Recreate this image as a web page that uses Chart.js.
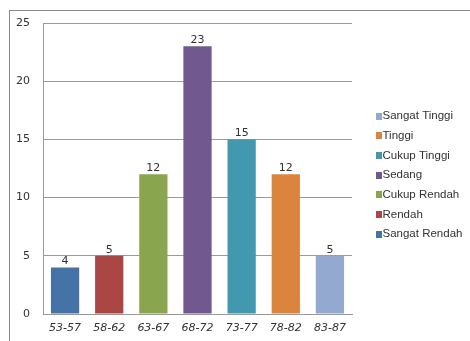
<!DOCTYPE html>
<html>
<head>
<meta charset="utf-8">
<script src="https://cdn.jsdelivr.net/npm/chart.js@4/dist/chart.umd.min.js"></script>
<style>
  html, body { margin: 0; padding: 0; background: #ffffff; }
  #wrap { width: 470px; height: 341px; position: relative; }
</style>
</head>
<body>
<div id="wrap"><canvas id="chart" width="470" height="341"></canvas></div>
<script>
// Score intervals and how many students fall in each
const categories = ['53-57', '58-62', '63-67', '68-72', '73-77', '78-82', '83-87'];
const counts = [4, 5, 12, 23, 15, 12, 5];
// Class names for each interval (same order as categories)
const classNames = ['Sangat Rendah', 'Rendah', 'Cukup Rendah', 'Sedang', 'Cukup Tinggi', 'Tinggi', 'Sangat Tinggi'];
const barColors = ['#4572A7', '#AA4643', '#89A54E', '#71588F', '#4198AF', '#DB843D', '#93A9CF'];
const yTicks = [0, 5, 10, 15, 20, 25];

// Outer frame of the chart
const framePlugin = {
  id: 'frame',
  beforeDraw(chart) {
    const ctx = chart.ctx;
    ctx.save();
    ctx.strokeStyle = '#8a8a8a';
    ctx.lineWidth = 1;
    ctx.strokeRect(9.5, 10.5, 480, 400);
    ctx.restore();
  }
};

// Value above each bar
const valueLabels = {
  id: 'valueLabels',
  afterDatasetsDraw(chart) {
    const ctx = chart.ctx;
    const meta = chart.getDatasetMeta(0);
    ctx.save();
    ctx.font = '11px "DejaVu Sans"';
    ctx.fillStyle = '#333333';
    ctx.textAlign = 'center';
    ctx.textBaseline = 'alphabetic';
    meta.data.forEach((bar, i) => {
      ctx.fillText(String(chart.data.datasets[0].data[i]), bar.x, bar.y - 3);
    });
    ctx.restore();
  }
};

// Legend listing the classes, highest class first
const sideLegend = {
  id: 'sideLegend',
  afterDraw(chart) {
    const ctx = chart.ctx;
    const x0 = 376, y0 = 116, step = 19.7;
    ctx.save();
    ctx.font = '11.5px "Liberation Sans"';
    ctx.textBaseline = 'middle';
    ctx.textAlign = 'left';
    const order = classNames.map((n, i) => i).reverse();
    order.forEach((idx, row) => {
      const y = y0 + row * step;
      ctx.fillStyle = barColors[idx];
      ctx.fillRect(x0, Math.round(y - 3.5), 6, 7);
      ctx.fillStyle = '#333333';
      ctx.fillText(classNames[idx], x0 + 6.5, y);
    });
    ctx.restore();
  }
};

new Chart(document.getElementById('chart'), {
  type: 'bar',
  data: {
    labels: categories,
    datasets: [{
      label: 'Jumlah',
      data: counts,
      backgroundColor: barColors,
      borderWidth: 0,
      categoryPercentage: 1.0,
      barPercentage: 0.64
    }]
  },
  options: {
    responsive: false,
    animation: false,
    layout: { padding: { left: 0, top: 23, right: 118, bottom: 0 } },
    plugins: {
      legend: { display: false },
      tooltip: { enabled: false }
    },
    scales: {
      x: {
        grid: { display: false, drawTicks: false },
        border: { display: true, color: '#9a9a9a', width: 1 },
        ticks: {
          font: { family: '"DejaVu Sans"', size: 11, style: 'italic' },
          color: '#333333',
          padding: 8,
          maxRotation: 0
        },
        afterFit(scale) { scale.height = 27; }
      },
      y: {
        min: 0,
        max: 25,
        afterBuildTicks(scale) { scale.ticks = yTicks.map(v => ({ value: v })); },
        grid: { color: '#9a9a9a', lineWidth: 1, drawTicks: false },
        border: { display: true, color: '#9a9a9a', width: 1 },
        ticks: {
          font: { family: '"DejaVu Sans"', size: 11 },
          color: '#333333',
          padding: 13
        },
        afterFit(scale) { scale.width = 43; }
      }
    }
  },
  plugins: [framePlugin, valueLabels, sideLegend]
});
</script>
</body>
</html>
